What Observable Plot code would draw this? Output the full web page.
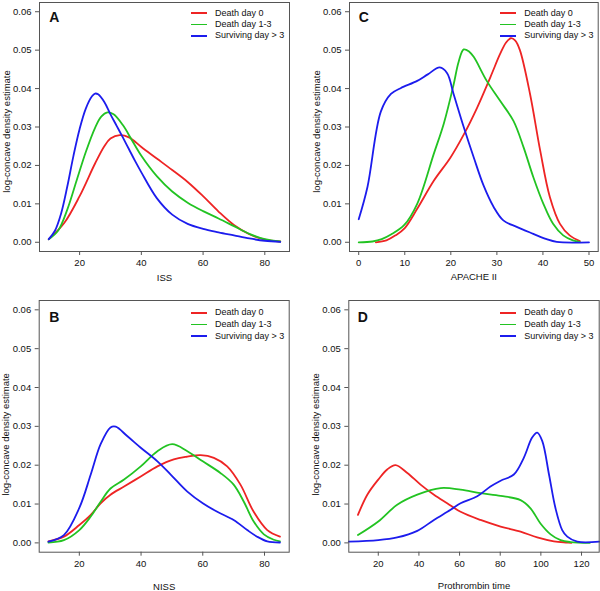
<!DOCTYPE html>
<html><head><meta charset="utf-8">
<script src="https://cdn.jsdelivr.net/npm/d3@7"></script>
<script src="https://cdn.jsdelivr.net/npm/@observablehq/plot@0.6"></script>
<style>
body{margin:0;background:#fff;font-family:"Liberation Sans",Arial,sans-serif}
#wrap{position:relative;width:600px;height:591px;overflow:hidden}
.panel{position:absolute}
.leg-sw{position:absolute;width:16px;height:1.7px}
.leg-tx{position:absolute;font-family:"Liberation Sans",Arial,sans-serif;font-size:9px;line-height:11px;height:11px;color:#111;white-space:nowrap}
</style></head>
<body><div id="wrap"></div>
<script>
// ---- series ----
const seriesNames = ["Death day 0", "Death day 1-3", "Surviving day > 3"];
const seriesColors = ["#ee2424", "#22c322", "#1c1ced"];
const yTicks = [0, 0.01, 0.02, 0.03, 0.04, 0.05, 0.06];
const yTitle = "log-concave density estimate";

// ---- Panel A: ISS ----
const issX0 = [10,15,20,25,28,30,33,36,40,45,50,55,60,65,70,75,80,85];
const issY0 = [0.0008,0.005,0.012,0.0205,0.025,0.027,0.0279,0.0273,0.0248,0.0218,0.0188,0.0157,0.012,0.008,0.0045,0.0021,0.0007,0.0002];
const issX1 = [10,13,16,19,22,25,27,29,31,34,37,40,45,50,55,60,65,70,75,80,85];
const issY1 = [0.0008,0.003,0.0085,0.016,0.0235,0.0298,0.0327,0.0338,0.0333,0.0305,0.0265,0.0225,0.0172,0.0132,0.0103,0.0081,0.0062,0.0042,0.0022,0.0008,0.0002];
const issX2 = [10,12,14,16,18,20,22,24,25,26,28,30,32,34,36,38,40,45,50,55,60,65,70,75,80,85];
const issY2 = [0.0008,0.003,0.0075,0.0145,0.0225,0.0295,0.0348,0.038,0.0387,0.0385,0.0365,0.0333,0.0303,0.0273,0.0242,0.0211,0.0182,0.0115,0.0072,0.0048,0.0035,0.0026,0.0018,0.001,0.0004,0.0001];
const issTicks = [20, 40, 60, 80];

// ---- Panel C: APACHE II ----
const apaX0 = [3.7,6,8,10,12.7,16.3,19.9,22.8,25.7,28.6,30.7,32,33,34,35,37.2,39.4,41.5,43.7,45.8,48];
const apaY0 = [0,0.0005,0.0018,0.0037,0.0087,0.016,0.022,0.028,0.035,0.043,0.049,0.052,0.0531,0.0525,0.05,0.0386,0.0239,0.0118,0.0048,0.0018,0.0003];
const apaX1 = [0,3,5,7,9.9,12.7,16.3,18.5,20.6,21.7,22.8,24,25,27.8,30.7,33.6,35.8,37.9,40.1,42.2,44.4,46.5,48];
const apaY1 = [0,0.0002,0.0008,0.002,0.0045,0.01,0.023,0.031,0.041,0.047,0.0502,0.0496,0.0482,0.042,0.0368,0.0316,0.0247,0.017,0.01,0.0048,0.0018,0.0005,0.0001];
const apaX2 = [0,1.9,4.8,7,9.1,12.7,15,17.6,19.2,20.6,22.8,25,27.1,29.3,31.4,34.3,37.9,40.8,43,50];
const apaY2 = [0.006,0.0144,0.034,0.0386,0.0401,0.042,0.0437,0.0455,0.044,0.0386,0.03,0.022,0.0148,0.0092,0.0057,0.004,0.0022,0.0008,0.0001,0];
const apaTicks = [0, 10, 20, 30, 40, 50];

// ---- Panel B: NISS ----
const nissX0 = [10,15,20,23.7,26.9,30.1,34.5,39.9,45.3,50.6,55,59.3,63.6,67.9,72.2,76.5,80.9,85];
const nissY0 = [0.0004,0.0016,0.0046,0.0072,0.0102,0.0124,0.0145,0.0171,0.0197,0.0215,0.0222,0.0226,0.0219,0.0197,0.015,0.008,0.0033,0.0016];
const nissX1 = [10,15,20,23.7,26.9,30.1,34.5,39.9,45.3,50.1,55,60,65.7,70,73.3,76.5,79.8,83,85];
const nissY1 = [0.0001,0.0007,0.0033,0.0068,0.0106,0.014,0.0163,0.0197,0.0236,0.0254,0.0236,0.021,0.018,0.015,0.0106,0.0055,0.0022,0.0008,0.0004];
const nissX2 = [10,15,20,23.7,26.9,30.1,31.8,35.5,39.9,45.3,49.6,55,60,64.7,70,74.4,77.6,80.9,85];
const nissY2 = [0.0003,0.002,0.009,0.0176,0.0254,0.0297,0.0299,0.0275,0.0245,0.021,0.0176,0.0132,0.0102,0.008,0.0059,0.0033,0.0016,0.0004,0.0001];
const nissTicks = [20, 40, 60, 80];

// ---- Panel D: Prothrombin time ----
const ptX0 = [10,14.6,20,24.4,28.5,34.3,40.8,47.4,53.9,60.5,70.3,80.2,90,98.2,106.4,113,115];
const ptY0 = [0.0072,0.0124,0.0163,0.0189,0.02,0.018,0.015,0.0124,0.0102,0.008,0.0059,0.0042,0.0029,0.0014,0.0004,0.0001,0];
const ptX1 = [10,20,29.3,39.2,50.7,60.5,70.3,80.2,90,94.9,99.8,104.8,109.7,114.6,124];
const ptY1 = [0.002,0.0055,0.0098,0.0124,0.0141,0.0137,0.0128,0.0121,0.011,0.0089,0.005,0.0022,0.0007,0.0002,0];
const ptX2 = [5.5,20,29.3,39.2,47.4,55.6,60.5,68.7,75.2,80.2,86.7,91.6,95.7,98.2,100.7,104,107.2,110.5,113,117.9,128.7];
const ptY2 = [0.0003,0.0007,0.0014,0.0031,0.0059,0.0085,0.0102,0.012,0.0145,0.016,0.0176,0.0219,0.0271,0.0284,0.0262,0.0176,0.0089,0.0033,0.0016,0.0003,0.0003];
const ptTicks = [20, 40, 60, 80, 100, 120];

// ---- layout ----
const panels = [
  {letter:"A", title:"ISS", xs:[issX0,issX1,issX2], ys:[issY0,issY1,issY2], ticks:issTicks, domain:[7,88],
   left:0, top:0, width:300, height:295, m:[2,11,44,39], titleDy:26, yTitleDy:4.5, letterDy:9.7, letterDx:9.7,
   legLeft:190.7, legRows:[13.3, 24.5, 35.7]},
  {letter:"C", title:"APACHE II", xs:[apaX0,apaX1,apaX2], ys:[apaY0,apaY1,apaY2], ticks:apaTicks, domain:[-2,52],
   left:300, top:0, width:300, height:295, m:[2,2.3,44,49], titleDy:25.7, yTitleDy:4.5, letterDy:9.7, letterDx:9.3,
   legLeft:200, legRows:[13.3, 24.5, 35.7]},
  {letter:"B", title:"NISS", xs:[nissX0,nissX1,nissX2], ys:[nissY0,nissY1,nissY2], ticks:nissTicks, domain:[7,88],
   left:0, top:295, width:300, height:296, m:[5,11.3,39.3,38.7], titleDy:34.5, yTitleDy:8, letterDy:11.7, letterDx:10,
   legLeft:190.7, legRows:[17.7, 29.4, 41.2]},
  {letter:"D", title:"Prothrombin time", xs:[ptX0,ptX1,ptX2], ys:[ptY0,ptY1,ptY2], ticks:ptTicks, domain:[5.5,128.7],
   left:300, top:295, width:300, height:296, m:[5,1.3,39.3,48.3], titleDy:34, yTitleDy:8, letterDy:11.7, letterDx:9,
   legLeft:200, legRows:[17.7, 29.4, 41.2]}
];

const wrap = document.getElementById("wrap");
for (const p of panels) {
  const rows = [];
  p.xs.forEach((xa, s) => xa.forEach((x, i) => rows.push({series: seriesNames[s], x, y: p.ys[s][i]})));
  const fig = Plot.plot({
    width: p.width, height: p.height,
    marginTop: p.m[0], marginRight: p.m[1], marginBottom: p.m[2], marginLeft: p.m[3],
    style: {fontFamily: '"Liberation Sans", Arial, sans-serif', fontSize: "9.5px", background: "white", color: "#111", overflow: "visible"},
    x: {domain: p.domain},
    y: {domain: [-0.0024, 0.0624]},
    color: {domain: seriesNames, range: seriesColors},
    marks: [
      Plot.line(rows, {x: "x", y: "y", z: "series", stroke: "series", curve: "catmull-rom", strokeWidth: 1.8}),
      Plot.frame({stroke: "#555", strokeWidth: 1}),
      Plot.axisX({ticks: p.ticks, tickSize: 4, tickPadding: 4, label: null, stroke: "#555", fill: "#111"}),
      Plot.axisY({ticks: yTicks, tickSize: 4, tickPadding: 4, tickFormat: d3.format(".2f"), label: null, stroke: "#555", fill: "#111"}),
      Plot.text([p.title], {text: d => d, frameAnchor: "bottom", dy: p.titleDy, lineAnchor: "middle", fill: "#111"}),
      Plot.text([yTitle], {text: d => d, frameAnchor: "left", rotate: -90, dx: -33, dy: p.yTitleDy, lineAnchor: "middle", textAnchor: "middle", fill: "#111"}),
      Plot.text([p.letter], {text: d => d, frameAnchor: "top-left", dx: p.letterDx, dy: p.letterDy, fontSize: 14, fontWeight: "bold", textAnchor: "start", lineAnchor: "top", fill: "#111"})
    ]
  });
  const div = document.createElement("div");
  div.className = "panel";
  div.style.left = p.left + "px";
  div.style.top = p.top + "px";
  div.style.width = p.width + "px";
  div.style.height = p.height + "px";
  div.appendChild(fig);
  seriesNames.forEach((name, i) => {
    const cy = p.legRows[i];
    const sw = document.createElement("div");
    sw.className = "leg-sw";
    sw.style.background = seriesColors[i];
    sw.style.left = p.legLeft + "px";
    sw.style.top = (cy - 0.85) + "px";
    const t = document.createElement("div");
    t.className = "leg-tx";
    t.textContent = name;
    t.style.left = (p.legLeft + 24.3) + "px";
    t.style.top = (cy - 5.5) + "px";
    div.appendChild(sw);
    div.appendChild(t);
  });
  wrap.appendChild(div);
}
</script>
</body></html>
